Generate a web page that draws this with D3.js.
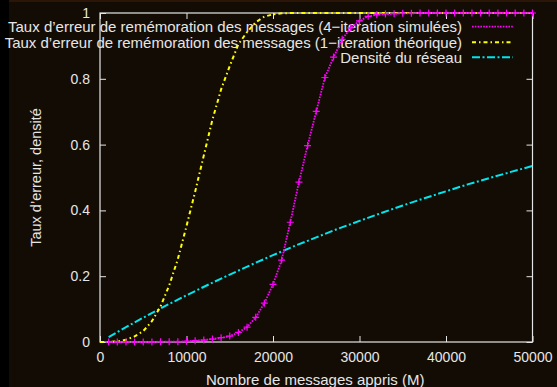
<!DOCTYPE html>
<html><head><meta charset="utf-8">
<script src="https://cdn.jsdelivr.net/npm/d3@7/dist/d3.min.js"></script>
<style>
html,body{margin:0;padding:0;background:#130c04;}
svg{display:block;}
text{font-family:"Liberation Sans",Arial,Helvetica,sans-serif;fill:#e6e6e6;}
</style></head>
<body>
<svg id="chart" width="557" height="387"></svg>
<script>
// ---- data ----
const xTicks = [0, 10000, 20000, 30000, 40000, 50000];
const yTicks = [0, 0.2, 0.4, 0.6, 0.8, 1];
const yTickLabels = ["0", "0.2", "0.4", "0.6", "0.8", "1"];

// 4-iteration simulated (points every 1000)
const simX = [1000,2000,3000,4000,5000,6000,7000,8000,9000,10000,11000,12000,13000,14000,15000,16000,17000,18000,19000,20000,21000,22000,23000,24000,25000,26000,27000,28000,29000,30000,31000,32000,33000,34000,35000,36000,37000,38000,39000,40000,41000,42000,43000,44000,45000,46000,47000,48000,49000,50000];
const simY = [0,0,0,0,0,0,0.001,0.001,0.001,0.002,0.004,0.006,0.009,0.013,0.018,0.029,0.045,0.075,0.118,0.175,0.249,0.364,0.486,0.597,0.701,0.804,0.866,0.92,0.955,0.976,0.99,0.995,0.997,0.998,0.999,0.999,1,1,1,1,1,1,1,1,1,1,1,1,1,1];

// 1-iteration theoretical
const theoX = [0,1000,2000,2500,3000,4000,5000,6000,7000,8000,9000,10000,11000,12000,13000,14000,15000,16000,17000,18000,19000,20000,21000,22000,25000,30000,35000,40000,45000,50000];
const theoY = [0,0,0.002,0.004,0.007,0.017,0.033,0.063,0.108,0.172,0.252,0.352,0.457,0.567,0.676,0.768,0.839,0.905,0.942,0.972,0.989,0.996,0.999,1,1,1,1,1,1,1];

// network density
const densX = [1000,2500,5000,7500,10000,12500,15000,17500,20000,22500,25000,27500,30000,32500,35000,37500,40000,42500,45000,47500,50000];
const densY = [0.015,0.038,0.074,0.109,0.142,0.174,0.205,0.235,0.264,0.292,0.318,0.344,0.368,0.392,0.415,0.437,0.458,0.479,0.498,0.517,0.535];

const legendLabels = [
  "Taux d\u2019erreur de remémoration des messages (4\u2212iteration simulées)",
  "Taux d\u2019erreur de remémoration des messages (1\u2212iteration théorique)",
  "Densité du réseau"
];
const xTitle = "Nombre de messages appris (M)";
const yTitle = "Taux d\u2019erreur, densité";

// ---- layout ----
const svg = d3.select("#chart");
const L = 100, R = 532.5, T = 13, B = 342;
const x = d3.scaleLinear().domain([0, 50000]).range([L, R]);
const y = d3.scaleLinear().domain([0, 1]).range([B, T]);

svg.append("rect").attr("x",0).attr("y",0).attr("width",557).attr("height",387).attr("fill","#130c04");
svg.append("rect").attr("x",0).attr("y",0).attr("width",9).attr("height",387).attr("fill","#000");
svg.append("rect").attr("x",9).attr("y",0).attr("width",548).attr("height",2).attr("fill","#2a1506");

const fg = "#e6e6e6";
const tickLen = 6;

// axes via d3.axis (ticks inward)
const gx = svg.append("g").attr("transform",`translate(0,${B})`)
  .call(d3.axisBottom(x).tickValues(xTicks).tickSizeInner(-tickLen).tickSizeOuter(0).tickPadding(10).tickFormat(d3.format("d")));
const gxTop = svg.append("g").attr("transform",`translate(0,${T})`)
  .call(d3.axisTop(x).tickValues(xTicks).tickSizeInner(-tickLen).tickSizeOuter(0).tickFormat(""));
const gy = svg.append("g").attr("transform",`translate(${L},0)`)
  .call(d3.axisLeft(y).tickValues(yTicks).tickSizeInner(-tickLen).tickSizeOuter(0).tickPadding(10).tickFormat((d,i)=>yTickLabels[i]));
const gyR = svg.append("g").attr("transform",`translate(${R},0)`)
  .call(d3.axisRight(y).tickValues(yTicks).tickSizeInner(-tickLen).tickSizeOuter(0).tickFormat(""));
[gx,gxTop,gy,gyR].forEach(g=>{
  g.select(".domain").remove();
  g.selectAll("line").attr("stroke",fg).attr("stroke-width",1);
  g.selectAll("text").attr("fill",fg).style("font-size","14px").attr("font-family","Liberation Sans, Arial, sans-serif");
});
gx.selectAll("text").attr("dy","0.71em").attr("y",10);
gy.selectAll("text").attr("x",-10);

svg.append("rect").attr("x",L).attr("y",T).attr("width",R-L).attr("height",B-T)
  .attr("fill","none").attr("stroke",fg).attr("stroke-width",1.2);

// titles
svg.append("text").attr("x",(L+R)/2 - 1).attr("y",385).attr("text-anchor","middle").style("font-size","15px").text(xTitle);
svg.append("text").attr("transform",`translate(41,${(T+B)/2}) rotate(-90)`).attr("text-anchor","middle").style("font-size","14.5px").text(yTitle);

// lines
const line = d3.line().x(d=>x(d[0])).y(d=>y(d[1]));
const simData = simX.map((v,i)=>[v,simY[i]]);
const theoData = theoX.map((v,i)=>[v,theoY[i]]);
const densData = densX.map((v,i)=>[v,densY[i]]);

const cMag = "#ff00ff", cYel = "#ffff00", cCyan = "#00e5ee";
const styles = [
  {c:cMag, w:1.8, dash:"1.6,1.2"},
  {c:cYel, w:2, dash:"4,3,1.5,3"},
  {c:cCyan, w:2, dash:"8,2.5,2,2.5"}
];

// legend
const lgX1 = 472, lgX2 = 513, lgTextX = 462;
const rows = [26.7, 42.3, 57.3];
legendLabels.forEach((t,i)=>{
  svg.append("text").attr("x",lgTextX).attr("y",rows[i]).attr("dy","0.36em").attr("text-anchor","end").style("font-size","15px").text(t);
  svg.append("line").attr("x1",lgX1).attr("x2",lgX2).attr("y1",rows[i]).attr("y2",rows[i])
    .attr("stroke",styles[i].c).attr("stroke-width",styles[i].w).attr("stroke-dasharray",styles[i].dash);
});

[densData, theoData, simData].forEach((data,k)=>{
  const s = styles[[2,1,0][k]];
  svg.append("path").datum(data).attr("d",line).attr("fill","none")
    .attr("stroke",s.c).attr("stroke-width",s.w).attr("stroke-dasharray",s.dash);
});

// cross markers for simulated data
const cs = 3.5;
svg.append("g").selectAll("path").data(simData).join("path")
  .attr("d",d=>`M${x(d[0])-cs},${y(d[1])}h${2*cs}M${x(d[0])},${y(d[1])-cs}v${2*cs}`)
  .attr("stroke",cMag).attr("stroke-width",1.2).attr("fill","none");
</script>
</body></html>
